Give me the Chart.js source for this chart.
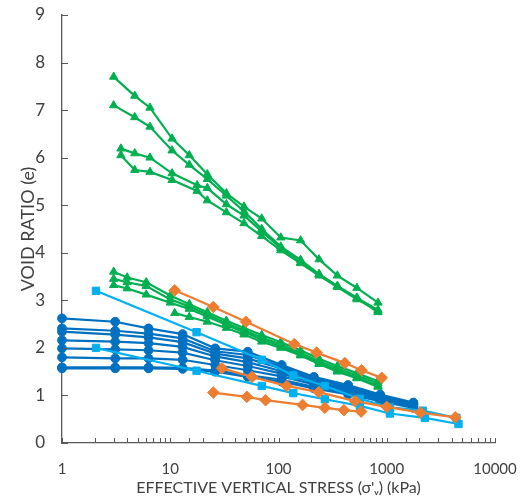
<!DOCTYPE html>
<html>
<head>
<meta charset="utf-8">
<script src="https://cdn.jsdelivr.net/npm/chart.js@4.4.1/dist/chart.umd.min.js"></script>
<style>
  html, body { margin: 0; padding: 0; background: #fff; }
  #wrap { width: 528px; height: 501px; }
</style>
</head>
<body>
<div id="wrap"><canvas id="c" width="528" height="501"></canvas></div>
<script>
// ---------- DATA ----------
const xTickLabels = [1, 10, 100, 1000, 10000];
const yTicks = [0, 1, 2, 3, 4, 5, 6, 7, 8, 9];

// Green (upper cluster)
const gA_x = [3, 4.7, 6.5, 10.4, 15, 22, 33, 48, 70, 105, 160, 237, 350, 530, 830];
const gA1 = [7.7, 7.3, 7.05, 6.4, 6.05, 5.65, 5.25, 4.97, 4.72, 4.32, 4.26, 3.86, 3.52, 3.26, 2.95];
const gA2 = [7.1, 6.85, 6.65, 6.15, 5.85, 5.55, 5.2, 4.87, 4.5, 4.13, 3.85, 3.55, 3.3, 3.05, 2.75];
const gB_x = [3.5, 4.7, 6.5, 10.4, 17.7, 22, 33, 48, 70, 105, 160, 237, 350, 530, 830];
const gB1 = [6.19, 6.09, 6.0, 5.67, 5.42, 5.36, 5.02, 4.78, 4.45, 4.1, 3.8, 3.55, 3.3, 3.05, 2.8];
const gB2 = [6.05, 5.74, 5.7, 5.53, 5.3, 5.1, 4.85, 4.62, 4.35, 4.05, 3.78, 3.52, 3.28, 3.02, 2.78];
// Green (lower cluster)
const gC_x = [3, 4, 6, 10, 15, 22, 33, 48, 70, 105, 160, 237, 350, 530, 830];
const gC1 = [3.6, 3.48, 3.38, 3.1, 2.92, 2.75, 2.57, 2.42, 2.27, 2.12, 1.95, 1.77, 1.62, 1.47, 1.3];
const gC2 = [3.45, 3.38, 3.3, 3.02, 2.87, 2.7, 2.52, 2.37, 2.22, 2.07, 1.9, 1.72, 1.57, 1.42, 1.25];
const gC3 = [3.32, 3.25, 3.12, 2.95, 2.82, 2.66, 2.48, 2.33, 2.18, 2.03, 1.86, 1.68, 1.53, 1.38, 1.2];
const gD_x = [11, 15, 22, 33, 48, 70, 105, 160, 237, 350, 530, 830];
const gD1 = [2.73, 2.65, 2.55, 2.42, 2.28, 2.13, 2.0, 1.84, 1.66, 1.5, 1.36, 1.18];

// Orange
const o1_x = [11, 25, 50, 140, 225, 410, 585, 900];
const o1 = [3.21, 2.86, 2.55, 2.08, 1.9, 1.68, 1.53, 1.37];
const o2_x = [30, 57, 119, 235, 510, 1000, 2050, 4300];
const o2 = [1.57, 1.39, 1.2, 1.07, 0.88, 0.76, 0.64, 0.54];
const o3_x = [25, 51, 76, 167, 268, 402, 580];
const o3 = [1.06, 0.97, 0.9, 0.8, 0.74, 0.69, 0.66];

// Light blue
const b1_x = [2.06, 17.5, 70, 137, 268, 565, 1070, 2150, 4400];
const b1 = [3.2, 2.33, 1.75, 1.42, 1.2, 0.93, 0.75, 0.68, 0.53];
const b2_x = [2.06, 17.5, 70, 137, 268, 565, 1070, 2250, 4600];
const b2 = [2.0, 1.52, 1.2, 1.05, 0.92, 0.78, 0.62, 0.53, 0.4];

// Dark blue
const d_x = [1, 3.1, 6.3, 13, 26, 52, 107, 212, 440, 870, 1760];
const d1 = [2.62, 2.55, 2.41, 2.29, 1.99, 1.92, 1.64, 1.39, 1.22, 1.02, 0.85];
const d2 = [2.41, 2.36, 2.3, 2.2, 1.93, 1.85, 1.6, 1.36, 1.19, 1.0, 0.84];
const d3 = [2.34, 2.28, 2.22, 2.12, 1.88, 1.78, 1.56, 1.33, 1.17, 0.98, 0.82];
const d4 = [2.16, 2.13, 2.1, 2.02, 1.82, 1.7, 1.51, 1.3, 1.15, 0.97, 0.81];
const d5 = [1.99, 1.97, 1.95, 1.9, 1.74, 1.62, 1.46, 1.27, 1.12, 0.95, 0.8];
const d6 = [1.8, 1.78, 1.78, 1.75, 1.64, 1.53, 1.4, 1.23, 1.09, 0.93, 0.78];
const d7 = [1.59, 1.59, 1.59, 1.58, 1.52, 1.43, 1.33, 1.18, 1.05, 0.9, 0.76];
const d8 = [1.57, 1.57, 1.57, 1.56, 1.5, 1.39, 1.29, 1.15, 1.02, 0.88, 0.74];

// ---------- BUILD ----------
const GREEN = '#00B050', ORANGE = '#ED7D31', LBLUE = '#00B0F0', DBLUE = '#0070C0';
const pts = (xs, ys) => xs.map((x, i) => ({ x: x, y: ys[i] }));
function ds(xs, ys, color, style, r) {
  return {
    data: pts(xs, ys), showLine: true, borderColor: color, backgroundColor: color,
    borderWidth: 2.2, pointStyle: style, pointRadius: r, pointBorderWidth: 1,
    pointBorderColor: color, pointBackgroundColor: color, tension: 0, clip: 8
  };
}
const datasets = [
  ds(o1_x, o1, ORANGE, 'rectRot', 5.8),
  ds(o2_x, o2, ORANGE, 'rectRot', 5.8),
  ds(o3_x, o3, ORANGE, 'rectRot', 5.8),
  ds(gA_x, gA1, GREEN, 'triangle', 4.8),
  ds(gA_x, gA2, GREEN, 'triangle', 4.8),
  ds(gB_x, gB1, GREEN, 'triangle', 4.8),
  ds(gB_x, gB2, GREEN, 'triangle', 4.8),
  ds(gC_x, gC1, GREEN, 'triangle', 4.8),
  ds(gC_x, gC2, GREEN, 'triangle', 4.8),
  ds(gC_x, gC3, GREEN, 'triangle', 4.8),
  ds(gD_x, gD1, GREEN, 'triangle', 4.8),
  ds(b1_x, b1, LBLUE, 'rect', 5.2),
  ds(b2_x, b2, LBLUE, 'rect', 5.2),
  ds(d_x, d1, DBLUE, 'circle', 4.4),
  ds(d_x, d2, DBLUE, 'circle', 4.4),
  ds(d_x, d3, DBLUE, 'circle', 4.4),
  ds(d_x, d4, DBLUE, 'circle', 4.4),
  ds(d_x, d5, DBLUE, 'circle', 4.4),
  ds(d_x, d6, DBLUE, 'circle', 4.4),
  ds(d_x, d7, DBLUE, 'circle', 4.4),
  ds(d_x, d8, DBLUE, 'circle', 4.4)
];

const AXIS = '#595959';
const innerTicks = {
  id: 'innerTicks',
  afterDraw(chart) {
    const ctx = chart.ctx, xs = chart.scales.x, ys = chart.scales.y;
    ctx.save();
    ctx.strokeStyle = AXIS; ctx.lineWidth = 1;
    xs.ticks.forEach(t => {
      const px = Math.round(xs.getPixelForValue(t.value)) + 0.5;
      ctx.beginPath(); ctx.moveTo(px, ys.bottom); ctx.lineTo(px, ys.bottom - 5); ctx.stroke();
    });
    ys.ticks.forEach(t => {
      const py = Math.round(ys.getPixelForValue(t.value)) + 0.5;
      ctx.beginPath(); ctx.moveTo(xs.left, py); ctx.lineTo(xs.left + 6, py); ctx.stroke();
    });
    ctx.restore();
  }
};

new Chart(document.getElementById('c'), {
  type: 'scatter',
  data: { datasets: datasets },
  options: {
    responsive: false, animation: false, devicePixelRatio: 1,
    layout: { padding: { top: 15, right: 33, bottom: 4, left: 0 }, autoPadding: false },
    plugins: { legend: { display: false }, tooltip: { enabled: false } },
    scales: {
      x: {
        type: 'logarithmic', min: 1, max: 10000,
        grid: { display: false, drawTicks: false },
        border: { display: true, color: AXIS, width: 1.3 },
        afterFit: (s) => { s.height = 54; s.paddingLeft = 0; s.paddingRight = 0; },
        ticks: {
          autoSkip: false, maxRotation: 0, color: '#404040', padding: 17,
          font: { family: 'Lato', size: 15 },
          callback: (v) => xTickLabels.includes(v) ? String(v) : ''
        },
        title: { display: true, text: "EFFECTIVE VERTICAL STRESS (σ'ᵥ) (kPa)", color: '#404040',
                 font: { family: 'Lato', size: 16 }, padding: { top: 0, bottom: 0 } }
      },
      y: {
        min: 0, max: 9,
        afterBuildTicks: (s) => { s.ticks = yTicks.map(v => ({ value: v })); },
        afterFit: (s) => { s.width = 62; s.paddingTop = 0; s.paddingBottom = 0; },
        grid: { display: false, drawTicks: false },
        border: { display: true, color: AXIS, width: 1.3 },
        ticks: { color: '#404040', padding: 17, font: { family: 'Lato', size: 17 } },
        title: { display: true, text: 'VOID RATIO (e)', color: '#404040',
                 font: { family: 'Lato', size: 18 }, padding: { top: 17, bottom: 0 } }
      }
    }
  },
  plugins: [innerTicks]
});
</script>
</body>
</html>
